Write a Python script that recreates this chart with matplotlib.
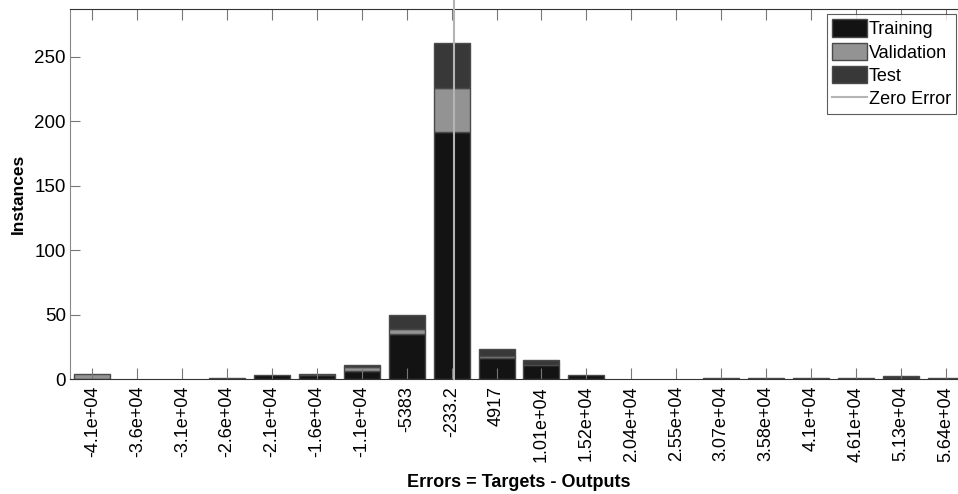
import numpy as np
import matplotlib
matplotlib.use("Agg")
import matplotlib.pyplot as plt

plt.rcParams['font.family'] = ['Liberation Sans', 'DejaVu Sans']

# bin centres (errors) and their tick labels
centers = [-41434.8, -36284.6, -31134.4, -25984.2, -20834.0, -15683.8, -10533.6,
           -5383.4, -233.2, 4917.0, 10067.2, 15217.4, 20367.6, 25517.8, 30668.0,
           35818.2, 40968.4, 46118.6, 51268.8, 56419.0]
tick_labels = ['-4.1e+04', '-3.6e+04', '-3.1e+04', '-2.6e+04', '-2.1e+04', '-1.6e+04',
               '-1.1e+04', '-5383', '-233.2', '4917', '1.01e+04', '1.52e+04',
               '2.04e+04', '2.55e+04', '3.07e+04', '3.58e+04', '4.1e+04', '4.61e+04',
               '5.13e+04', '5.64e+04']

training   = [0, 0, 0, 1, 3, 3, 6, 35, 192, 16, 11, 3, 0, 0, 1, 0, 1, 0, 0, 0]
validation = [4, 0, 0, 0, 0, 0, 3, 4, 34, 2, 0, 0, 0, 0, 0, 1, 0, 1, 0, 1]
test       = [0, 0, 0, 0, 0, 1, 2, 11, 35, 5, 4, 0, 0, 0, 0, 0, 0, 0, 2, 0]

c_train, c_val, c_test, c_zero = '#131313', '#939393', '#383838', '#b4b4b4'

fig = plt.figure(figsize=(9.58, 4.94), dpi=100)
ax = fig.add_axes([70 / 958, 1 - 379 / 494, 898 / 958, 370 / 494])

x = np.arange(1, len(centers) + 1)
tr = np.array(training)
va = np.array(validation)
te = np.array(test)

ec = '#4a4a4a'
handles = []
bottom = np.zeros(len(x))
for vals, col, name in [(tr, c_train, 'Training'), (va, c_val, 'Validation'), (te, c_test, 'Test')]:
    m = vals > 0
    h = ax.bar(x[m], vals[m], width=0.8, bottom=bottom[m], color=col,
               edgecolor=ec, linewidth=1, label=name)
    handles.append(h)
    bottom = bottom + vals

# zero error line pokes out above the axes like in the matlab plot
zero_x = np.interp(0, centers, x)
zl = ax.axvline(zero_x, ymax=1.03, color=c_zero, linewidth=1.5, label='Zero Error',
                zorder=5, clip_on=False)
handles.append(zl)

total_max = (tr + va + te).max()
ax.set_xlim(0.5, len(centers) + 0.5)
ax.set_ylim(0, total_max * 1.1)

ax.set_xticks(x)
ax.set_xticklabels(tick_labels, rotation=90, fontsize=13)
ax.set_yticks([0, 50, 100, 150, 200, 250])
ax.tick_params(axis='y', labelsize=13.5, direction='in', length=7, color='#777777', pad=3)
ax.tick_params(axis='x', direction='in', length=8, color='#777777', top=True, pad=5)

for side in ['top', 'bottom']:
    ax.spines[side].set_color('#333333')
ax.spines['left'].set_color('#888888')
ax.spines['right'].set_visible(False)

ax.set_xlabel('Errors = Targets - Outputs', fontsize=13, fontweight='bold', labelpad=9)
ax.set_ylabel('Instances', fontsize=12.5, fontweight='bold', labelpad=6)

leg = ax.legend(handles=handles, loc='upper left', bbox_to_anchor=(827 / 958, 1 - 14 / 494),
                bbox_transform=fig.transFigure, fontsize=13, frameon=True,
                fancybox=False, borderpad=0.3, labelspacing=0.25,
                handlelength=1.9, handleheight=1.1, handletextpad=0.1,
                borderaxespad=0)
leg.get_frame().set_edgecolor('#333333')
leg.get_frame().set_linewidth(0.8)

fig.savefig('out.png', dpi=100)
